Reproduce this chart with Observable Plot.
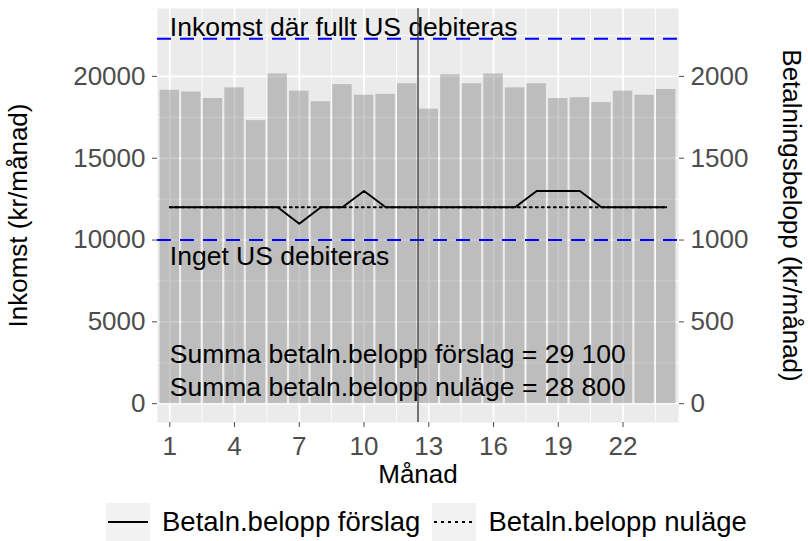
<!DOCTYPE html>
<html><head><meta charset="utf-8">
<script src="https://cdn.jsdelivr.net/npm/d3@7"></script>
<script src="https://cdn.jsdelivr.net/npm/@observablehq/plot@0.6"></script>
<style>
body{margin:0;background:#fff;font-family:"Liberation Sans",Arial,sans-serif;}
#chart svg{display:block;overflow:visible;}
#legend{display:flex;justify-content:flex-start;align-items:flex-start;height:51px;padding-left:106px;padding-top:13px;box-sizing:border-box;}
.item{display:flex;align-items:center;margin-right:12px;}
.key{width:44px;height:38px;background:#F2F2F2;display:flex;align-items:center;justify-content:center;}
.lab{font-size:27.5px;color:#000;margin-left:12px;line-height:38px;}
</style></head><body>
<div id="chart"></div>
<div id="legend"></div>
<script>
// ---- data ----
const months = [1,2,3,4,5,6,7,8,9,10,11,12,13,14,15,16,17,18,19,20,21,22,23,24];
const income = [19150,19050,18650,19300,17300,20150,19100,18450,19500,18850,18900,19550,
                18000,20100,19550,20150,19300,19550,18650,18700,18400,19100,18850,19200];
const paymentProposal = [1200,1200,1200,1200,1200,1200,1100,1200,1200,1300,1200,1200,
                         1200,1200,1200,1200,1200,1300,1300,1300,1200,1200,1200,1200];
const paymentCurrent = [1200,1200,1200,1200,1200,1200,1200,1200,1200,1200,1200,1200,
                        1200,1200,1200,1200,1200,1200,1200,1200,1200,1200,1200,1200];
const thresholds = [10000, 22300];
const splitMonth = [12.5];
const xTicks = [1,4,7,10,13,16,19,22];
const xMinor = [2.5,5.5,8.5,11.5,14.5,17.5,20.5,23.5];
const yTicks = [0,5000,10000,15000,20000];
const yMinor = [2500,7500,12500,17500,22500];
const secondaryRatio = 10; // right axis = left axis / 10
const annotationTexts = ["Inkomst där fullt US debiteras","Inget US debiteras",
  "Summa betaln.belopp förslag = 29 100","Summa betaln.belopp nuläge = 28 800"];
const annotationY = [23000, 9000, 3000, 1000];
const annotationX = 1;
const legendLabels = ["Betaln.belopp förslag","Betaln.belopp nuläge"];

// ---- build ----
const rows = months.map((m,i)=>({m, income: income[i],
  proposal: paymentProposal[i]*secondaryRatio, current: paymentCurrent[i]*secondaryRatio}));
const notes = annotationTexts.map((t,i)=>({t, y: annotationY[i]}));
const font = "'Liberation Sans', Arial, sans-serif";

const chart = Plot.plot({
  width: 808, height: 490,
  marginLeft: 157, marginRight: 130, marginTop: 8, marginBottom: 68,
  style: {fontFamily: font, background: "white", overflow: "visible"},
  x: {domain: [0.43, 24.57]},
  y: {domain: [-1150, 24150]},
  marks: [
    Plot.frame({fill: "#EBEBEB", stroke: null}),
    Plot.ruleY(yMinor, {stroke: "white", strokeWidth: 0.9}),
    Plot.ruleX(xMinor, {stroke: "white", strokeWidth: 0.9}),
    Plot.ruleY(yTicks, {stroke: "white", strokeWidth: 1.8}),
    Plot.ruleX(xTicks, {stroke: "white", strokeWidth: 1.8}),
    Plot.rectY(rows, {x1: d=>d.m-0.45, x2: d=>d.m+0.45, y: "income", fill: "#7F7F7F", fillOpacity: 0.42}),
    Plot.ruleY(thresholds, {stroke: "#0000FF", strokeWidth: 1.9, strokeDasharray: "14,9"}),
    Plot.lineY(rows, {x: "m", y: "current", stroke: "black", strokeWidth: 1.9, strokeDasharray: "2,4"}),
    Plot.lineY(rows, {x: "m", y: "proposal", stroke: "black", strokeWidth: 1.9}),
    Plot.text(notes, {x: annotationX, y: "y", text: "t", textAnchor: "start", lineAnchor: "middle", fontSize: 26.5, fill: "black"}),
    Plot.ruleX(splitMonth, {stroke: "#333333", strokeWidth: 1.3}),
    Plot.axisX(xTicks, {anchor: "bottom", tickSize: 5, tickPadding: 9, fontSize: 26, color: "#4D4D4D", label: null,
      tickFormat: d => String(d)}),
    Plot.axisY(yTicks, {anchor: "left", tickSize: 5, tickPadding: 7, fontSize: 26, color: "#4D4D4D", label: null,
      tickFormat: d => String(d)}),
    Plot.axisY(yTicks, {anchor: "right", tickSize: 5, tickPadding: 7, fontSize: 26, color: "#4D4D4D", label: null,
      tickFormat: d => String(d/secondaryRatio)}),
    Plot.text(["Månad"], {frameAnchor: "bottom", dy: 52, fontSize: 26, fill: "black", lineAnchor: "middle", textAnchor: "middle"}),
    Plot.text(["Inkomst (kr/månad)"], {frameAnchor: "left", dx: -139, rotate: -90, fontSize: 26, fill: "black", textAnchor: "middle", lineAnchor: "middle"}),
    Plot.text(["Betalningsbelopp (kr/månad)"], {frameAnchor: "right", dx: 113, rotate: 90, fontSize: 26, fill: "black", textAnchor: "middle", lineAnchor: "middle"})
  ]
});
document.getElementById("chart").appendChild(chart);

// legend
const leg = d3.select("#legend");
legendLabels.forEach((lab, i) => {
  const it = leg.append("div").attr("class","item");
  const svg = it.append("div").attr("class","key").append("svg").attr("width",44).attr("height",38);
  svg.append("line").attr("x1",2).attr("x2",42).attr("y1",19).attr("y2",19)
    .attr("stroke","black").attr("stroke-width",1.9).attr("stroke-dasharray", i===0 ? null : "3,4");
  it.append("span").attr("class","lab").text(lab);
});
</script>
</body></html>
